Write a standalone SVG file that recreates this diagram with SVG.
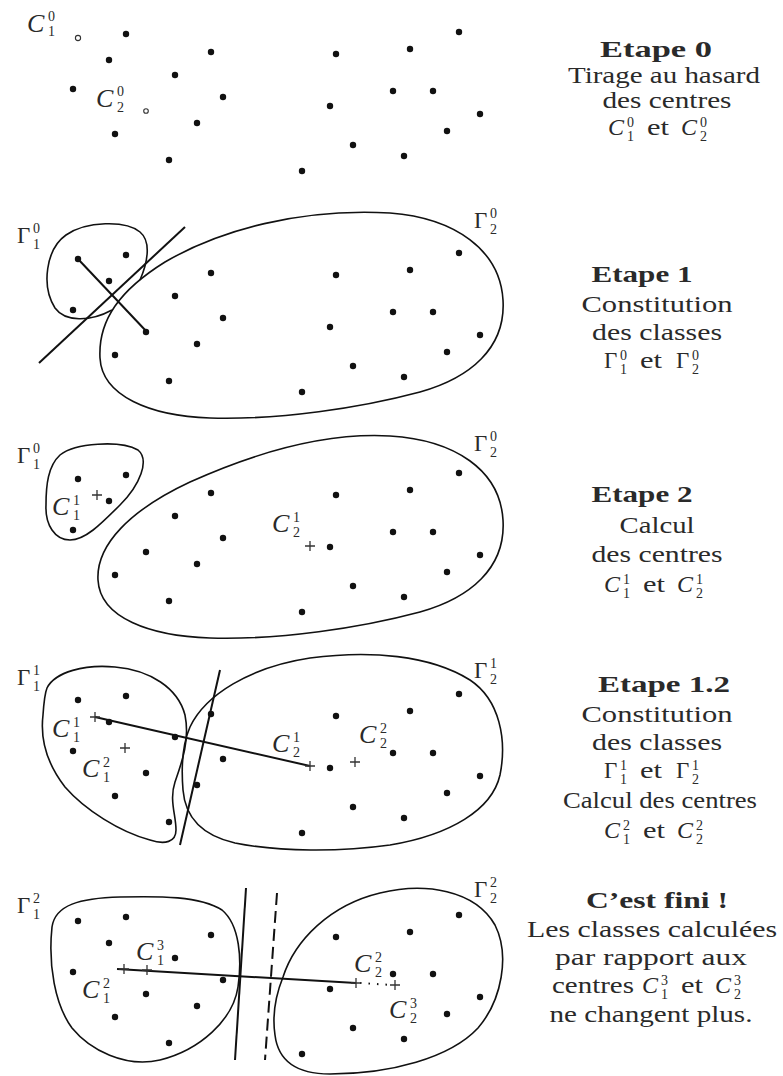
<svg xmlns="http://www.w3.org/2000/svg" width="783" height="1076" viewBox="0 0 783 1076" font-family="'Liberation Serif', 'Times New Roman', serif">
<style>
.dot{fill:#111}
.open{fill:#fff;stroke:#333;stroke-width:1.1}
.curve{fill:none;stroke:#111;stroke-width:1.6}
.line{stroke:#111;stroke-width:2;fill:none}
.plus{stroke:#333;stroke-width:1.3;fill:none}
text{font-family:"Liberation Serif","Times New Roman",serif;fill:#2a2a2a}
.m{font-size:26px;font-style:italic}
.mr{font-size:24px;font-style:italic}
.g{font-size:23px}
.s{font-size:14px}
.t{font-size:23px;text-anchor:middle}
.b{font-weight:bold}
</style>
<defs>
<g id="pts">
<circle class="dot" cx="126" cy="34" r="3.2"/>
<circle class="dot" cx="109" cy="60" r="3.2"/>
<circle class="dot" cx="211" cy="52" r="3.2"/>
<circle class="dot" cx="175" cy="75" r="3.2"/>
<circle class="dot" cx="73" cy="89" r="3.2"/>
<circle class="dot" cx="223" cy="97" r="3.2"/>
<circle class="dot" cx="197" cy="123" r="3.2"/>
<circle class="dot" cx="115" cy="134" r="3.2"/>
<circle class="dot" cx="169" cy="160" r="3.2"/>
<circle class="dot" cx="336" cy="54" r="3.2"/>
<circle class="dot" cx="410" cy="49" r="3.2"/>
<circle class="dot" cx="459" cy="32" r="3.2"/>
<circle class="dot" cx="393" cy="91" r="3.2"/>
<circle class="dot" cx="433" cy="91" r="3.2"/>
<circle class="dot" cx="330" cy="106" r="3.2"/>
<circle class="dot" cx="480" cy="114" r="3.2"/>
<circle class="dot" cx="447" cy="131" r="3.2"/>
<circle class="dot" cx="353" cy="145" r="3.2"/>
<circle class="dot" cx="404" cy="156" r="3.2"/>
<circle class="dot" cx="302" cy="171" r="3.2"/>
</g>
<g id="ctr">
<circle class="dot" cx="78" cy="38" r="3.2"/>
<circle class="dot" cx="146" cy="111" r="3.2"/>
</g>
<path id="plus" class="plus" d="M-5,0H5M0,-5V5"/>
</defs>

<!-- Panel 1 -->
<g id="panel1">
<use href="#pts"/>
<circle class="open" cx="78" cy="38" r="2.6"/>
<circle class="open" cx="146" cy="111" r="2.3"/>
<text class="m" x="27" y="32">C</text><text class="s" x="48" y="21">0</text><text class="s" x="48" y="36">1</text>
<text class="m" x="96" y="107">C</text><text class="s" x="117" y="96">0</text><text class="s" x="117" y="112">2</text>
</g>

<!-- Panel 2 -->
<g id="panel2">
<path class="curve" d="M100,358 C98,320 120,290 165,262 C220,230 300,208 390,213 C455,218 500,250 503,300 C506,348 470,378 420,392 C360,408 280,420 210,418 C150,416 102,396 100,358 Z"/>
<path class="curve" d="M140,280 C147,264 152,242 140,232 C126,220 86,221 66,235 C46,249 41,286 55,308 C65,322 90,322 112,310"/>
<g id="conn2">
<line class="line" x1="39" y1="363" x2="185" y2="227"/>
<line class="line" x1="78" y1="259" x2="147" y2="332"/>
</g>
<use href="#pts" transform="translate(0,221)"/>
<use href="#ctr" transform="translate(0,221)"/>
<text class="g" x="17" y="243">Γ</text><text class="s" x="33" y="233">0</text><text class="s" x="33" y="249">1</text>
<text class="g" x="474" y="228">Γ</text><text class="s" x="490" y="218">0</text><text class="s" x="490" y="234">2</text>
</g>

<!-- Panel 3 -->
<g id="panel3">
<path class="curve" d="M60,455 C75,443 120,440 138,450 C150,460 140,485 120,505 C100,525 85,540 70,540 C55,540 45,525 46,505 C46,485 48,466 60,455 Z"/>
<path class="curve" d="M98,580 C96,545 130,510 190,482 C250,455 320,432 390,436 C455,440 500,470 503,520 C506,568 470,598 420,612 C360,628 280,640 210,638 C150,636 100,618 98,580 Z"/>
<use href="#pts" transform="translate(0,441)"/>
<use href="#ctr" transform="translate(0,441)"/>
<use href="#plus" x="97" y="495"/>
<use href="#plus" x="310" y="546"/>
<text class="g" x="17" y="463">Γ</text><text class="s" x="33" y="453">0</text><text class="s" x="33" y="469">1</text>
<text class="g" x="474" y="451">Γ</text><text class="s" x="490" y="441">0</text><text class="s" x="490" y="457">2</text>
<text class="m" x="52" y="515">C</text><text class="s" x="73" y="505">1</text><text class="s" x="73" y="520">1</text>
<text class="m" x="272" y="532">C</text><text class="s" x="293" y="522">1</text><text class="s" x="293" y="537">2</text>
</g>

<!-- Panel 4 -->
<g id="panel4">
<path class="curve" d="M47,688 C55,672 85,664 115,667 C150,670 178,688 185,715 C190,740 182,762 175,782 C169,800 176,815 176,830 C176,842 165,845 150,840 C120,832 85,810 65,787 C48,765 40,740 43,715 C44,700 45,693 47,688 Z"/>
<path class="curve" d="M190,727 C205,695 250,667 310,658 C370,650 430,655 470,680 C500,700 507,740 500,775 C492,810 450,835 390,845 C340,852 280,852 235,843 C200,835 185,815 183,790 C181,765 182,745 190,727 Z"/>
<g id="conn4">
<line class="line" x1="220" y1="670" x2="180" y2="845"/>
<line class="line" x1="95" y1="717" x2="310" y2="766"/>
</g>
<use href="#pts" transform="translate(0,662)"/>
<use href="#ctr" transform="translate(0,662)"/>
<use href="#plus" x="95" y="717"/>
<use href="#plus" x="125" y="748"/>
<use href="#plus" x="310" y="766"/>
<use href="#plus" x="355" y="762"/>
<text class="g" x="17" y="685">Γ</text><text class="s" x="33" y="675">1</text><text class="s" x="33" y="691">1</text>
<text class="g" x="474" y="678">Γ</text><text class="s" x="490" y="668">1</text><text class="s" x="490" y="684">2</text>
<text class="m" x="52" y="737">C</text><text class="s" x="73" y="727">1</text><text class="s" x="73" y="742">1</text>
<text class="m" x="82" y="777">C</text><text class="s" x="103" y="767">2</text><text class="s" x="103" y="782">1</text>
<text class="m" x="272" y="752">C</text><text class="s" x="293" y="742">1</text><text class="s" x="293" y="757">2</text>
<text class="m" x="359" y="743">C</text><text class="s" x="380" y="733">2</text><text class="s" x="380" y="748">2</text>
</g>

<!-- Panel 5 -->
<g id="panel5">
<path class="curve" d="M52,927 C55,905 80,898 120,897 C160,896 200,896 222,910 C240,925 242,960 238,987 C233,1020 200,1050 160,1060 C125,1068 90,1050 72,1028 C55,1005 48,965 52,927 Z"/>
<path class="curve" d="M283,977 C295,940 330,905 380,893 C425,882 475,890 495,925 C510,955 502,1000 478,1028 C450,1058 390,1074 330,1074 C295,1074 278,1060 275,1035 C272,1015 275,997 283,977 Z"/>
<g id="conn5">
<line class="line" x1="246" y1="888" x2="235" y2="1060"/>
<line class="line" x1="277" y1="893" x2="265" y2="1060" stroke-dasharray="12,6"/>
<line class="line" x1="117" y1="969" x2="356" y2="983"/>
<line class="line" x1="360" y1="983" x2="392" y2="985" stroke-width="1.5" stroke-dasharray="1.5,7"/>
</g>
<use href="#pts" transform="translate(0,883)"/>
<use href="#ctr" transform="translate(0,883)"/>
<use href="#plus" x="124" y="969"/>
<use href="#plus" x="147" y="970"/>
<use href="#plus" x="356" y="983"/>
<use href="#plus" x="395" y="985"/>
<text class="g" x="17" y="913">Γ</text><text class="s" x="33" y="903">2</text><text class="s" x="33" y="919">1</text>
<text class="g" x="474" y="897">Γ</text><text class="s" x="490" y="887">2</text><text class="s" x="490" y="903">2</text>
<text class="m" x="136" y="960">C</text><text class="s" x="157" y="950">3</text><text class="s" x="157" y="965">1</text>
<text class="m" x="82" y="998">C</text><text class="s" x="103" y="988">2</text><text class="s" x="103" y="1003">1</text>
<text class="m" x="354" y="972">C</text><text class="s" x="375" y="962">2</text><text class="s" x="375" y="977">2</text>
<text class="m" x="389" y="1018">C</text><text class="s" x="410" y="1008">3</text><text class="s" x="410" y="1023">2</text>
</g>

<!-- Right-hand captions -->
<g id="caption0">
<text class="t b" x="656" y="57" textLength="112" lengthAdjust="spacingAndGlyphs">Etape 0</text>
<text class="t" x="664" y="83" textLength="192" lengthAdjust="spacingAndGlyphs">Tirage au hasard</text>
<text class="t" x="667" y="108" textLength="129" lengthAdjust="spacingAndGlyphs">des centres</text>
<text class="mr" x="608" y="135">C</text><text class="s" x="627" y="127">0</text><text class="s" x="627" y="141">1</text>
<text class="g" x="647" y="135" textLength="22" lengthAdjust="spacingAndGlyphs">et</text>
<text class="mr" x="681" y="135">C</text><text class="s" x="700" y="127">0</text><text class="s" x="700" y="141">2</text>
</g>
<g id="caption1">
<text class="t b" x="642" y="282" textLength="101" lengthAdjust="spacingAndGlyphs">Etape 1</text>
<text class="t" x="657" y="312" textLength="151" lengthAdjust="spacingAndGlyphs">Constitution</text>
<text class="t" x="657" y="340" textLength="130" lengthAdjust="spacingAndGlyphs">des classes</text>
<text class="g" x="604" y="368">Γ</text><text class="s" x="620" y="360">0</text><text class="s" x="620" y="374">1</text>
<text class="g" x="640" y="368" textLength="22" lengthAdjust="spacingAndGlyphs">et</text>
<text class="g" x="676" y="368">Γ</text><text class="s" x="692" y="360">0</text><text class="s" x="692" y="374">2</text>
</g>
<g id="caption2">
<text class="t b" x="642" y="502" textLength="101" lengthAdjust="spacingAndGlyphs">Etape 2</text>
<text class="t" x="657" y="533" textLength="75" lengthAdjust="spacingAndGlyphs">Calcul</text>
<text class="t" x="657" y="562" textLength="131" lengthAdjust="spacingAndGlyphs">des centres</text>
<text class="mr" x="604" y="592">C</text><text class="s" x="623" y="584">1</text><text class="s" x="623" y="598">1</text>
<text class="g" x="643" y="592" textLength="22" lengthAdjust="spacingAndGlyphs">et</text>
<text class="mr" x="677" y="592">C</text><text class="s" x="696" y="584">1</text><text class="s" x="696" y="598">2</text>
</g>
<g id="caption3">
<text class="t b" x="664" y="692" textLength="132" lengthAdjust="spacingAndGlyphs">Etape 1.2</text>
<text class="t" x="657" y="722" textLength="151" lengthAdjust="spacingAndGlyphs">Constitution</text>
<text class="t" x="657" y="750" textLength="130" lengthAdjust="spacingAndGlyphs">des classes</text>
<text class="g" x="604" y="778">Γ</text><text class="s" x="620" y="770">1</text><text class="s" x="620" y="784">1</text>
<text class="g" x="640" y="778" textLength="22" lengthAdjust="spacingAndGlyphs">et</text>
<text class="g" x="676" y="778">Γ</text><text class="s" x="692" y="770">1</text><text class="s" x="692" y="784">2</text>
<text class="t" x="660" y="808" textLength="194" lengthAdjust="spacingAndGlyphs">Calcul des centres</text>
<text class="mr" x="604" y="838">C</text><text class="s" x="623" y="830">2</text><text class="s" x="623" y="844">1</text>
<text class="g" x="643" y="838" textLength="22" lengthAdjust="spacingAndGlyphs">et</text>
<text class="mr" x="677" y="838">C</text><text class="s" x="696" y="830">2</text><text class="s" x="696" y="844">2</text>
</g>
<g id="caption4">
<text class="t b" x="657" y="908" textLength="142" lengthAdjust="spacingAndGlyphs">C’est fini !</text>
<text class="t" x="652" y="937" textLength="250" lengthAdjust="spacingAndGlyphs">Les classes calculées</text>
<text class="t" x="651" y="965" textLength="192" lengthAdjust="spacingAndGlyphs">par rapport aux</text>
<text class="g" x="552" y="993" textLength="82" lengthAdjust="spacingAndGlyphs">centres</text>
<text class="mr" x="642" y="993">C</text><text class="s" x="661" y="985">3</text><text class="s" x="661" y="999">1</text>
<text class="g" x="681" y="993" textLength="22" lengthAdjust="spacingAndGlyphs">et</text>
<text class="mr" x="715" y="993">C</text><text class="s" x="734" y="985">3</text><text class="s" x="734" y="999">2</text>
<text class="t" x="651" y="1022" textLength="203" lengthAdjust="spacingAndGlyphs">ne changent plus.</text>
</g>
</svg>
